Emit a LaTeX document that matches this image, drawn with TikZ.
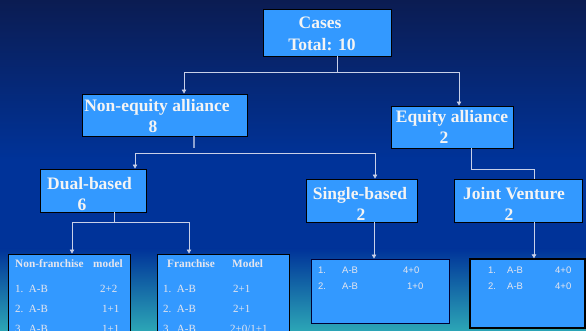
\documentclass[tikz,border=0pt]{standalone}
\usepackage{fontspec}
\setmainfont{Liberation Serif}
\newfontfamily\arialf{Liberation Sans}
\usetikzlibrary{arrows.meta}
\definecolor{bgtop}{HTML}{0B1C52}
\definecolor{bgmid}{HTML}{003399}
\definecolor{bgbot}{HTML}{2CA6B6}
\definecolor{boxfill}{HTML}{3399FF}
\definecolor{txt}{HTML}{F4F4F4}
\definecolor{ttxt}{HTML}{E6E6EE}
\definecolor{linec}{HTML}{C8D0E8}
\tikzset{
  box/.style={draw=black, line width=0.9pt, fill=boxfill, inner sep=0pt},
  head/.style={anchor=base, text=txt, font=\fontsize{17.5}{20}\selectfont\bfseries, inner sep=0pt},
  thead/.style={anchor=base west, text=ttxt, font=\fontsize{11.3}{13}\selectfont\bfseries, inner sep=0pt},
  trow/.style={anchor=base west, text=ttxt, font=\fontsize{11}{13}\selectfont, inner sep=0pt},
  srow/.style={anchor=base west, text=ttxt, font=\arialf\fontsize{9.5}{11}\selectfont, inner sep=0pt},
  conn/.style={draw=linec, line width=0.8pt},
  arr/.style={conn, -{Triangle[width=4.5pt,length=4pt]}},
}
\begin{document}
\begin{tikzpicture}[x=1pt,y=1pt]
\useasboundingbox (0,0) rectangle (586,331);
\clip (0,0) rectangle (586,331);
% background
\shade[top color=bgtop, bottom color=bgmid] (0,171) rectangle (586,331);
\fill[bgmid] (0,82) rectangle (586,171.5);
\shade[top color=bgmid, bottom color=bgbot] (0,0) rectangle (586,82.5);

% boxes
\node[box, minimum width=128pt, minimum height=47pt] (cases) at (327,298.5) {};
\node[box, minimum width=165pt, minimum height=42pt] (ne) at (164.5,216) {};
\node[box, minimum width=122pt, minimum height=42pt] (eq) at (452,204) {};
\node[box, minimum width=106pt, minimum height=43pt] (dual) at (93,140.5) {};
\node[box, minimum width=111pt, minimum height=43pt] (single) at (361.5,130.5) {};
\node[box, minimum width=128pt, minimum height=43pt] (jv) at (518,130.5) {};
\node[box, minimum width=122pt, minimum height=86pt] (nft) at (69,34) {};
\node[box, minimum width=132pt, minimum height=86pt] (frt) at (223,34) {};
\node[box, draw=black!80!blue, minimum width=138pt, minimum height=64pt] (sbt) at (380,40) {};
\node[box, line width=1.3pt, minimum width=115pt, minimum height=69pt] (jvt) at (527.5,37.5) {};

% heading texts
\node[head] (t1) at (320,302) {Cases};
\node[head] (t2) at (322,280) {Total: 10};
\node[head] (t3) at (157,219) {Non-equity alliance};
\node[head] (t4) at (153,198.3) {8};
\node[head] (t5) at (452,208) {Equity alliance};
\node[head] (t6) at (444,187) {2};
\node[head] (t7) at (89.5,141) {Dual-based};
\node[head] (t8) at (82,120.3) {6};
\node[head] (t9) at (360,131) {Single-based};
\node[head] (t10) at (361,110) {2};
\node[head] (t11) at (514,131) {Joint Venture};
\node[head] (t12) at (509,110) {2};

% table: non-franchise
\node[thead] (a1) at (15,63) {Non-franchise};
\node[thead] (a2) at (93,63) {model};
\node[trow] (a3) at (15,38.3) {1.\ \ A-B};
\node[trow] (a4) at (100,38.3) {2+2};
\node[trow] (a5) at (15,18.3) {2.\ \ A-B};
\node[trow] (a6) at (102,18.3) {1+1};
\node[trow] (a7) at (15,-1.5) {3.\ \ A-B};
\node[trow] (a8) at (102,-1.5) {1+1};

% table: franchise
\node[thead] (b1) at (167,63) {Franchise};
\node[thead] (b2) at (232,63) {Model};
\node[trow] (b3) at (163,38.3) {1.\ \ A-B};
\node[trow] (b4) at (233,38.3) {2+1};
\node[trow] (b5) at (163,18.3) {2.\ \ A-B};
\node[trow] (b6) at (233,18.3) {2+1};
\node[trow] (b7) at (163,-1.5) {3.\ \ A-B};
\node[trow] (b8) at (230,-1.5) {2+0/1+1};

% table: single-based
\node[srow] (c1) at (318,57.7) {1.};
\node[srow] (c2) at (342,57.7) {A-B};
\node[srow] (c3) at (403,57.7) {4+0};
\node[srow] (c4) at (318,41.7) {2.};
\node[srow] (c5) at (342,41.7) {A-B};
\node[srow] (c6) at (407,41.7) {1+0};

% table: joint venture
\node[srow] (d1) at (488,57.7) {1.};
\node[srow] (d2) at (507,57.7) {A-B};
\node[srow] (d3) at (555,57.7) {4+0};
\node[srow] (d4) at (488,41.7) {2.};
\node[srow] (d5) at (507,41.7) {A-B};
\node[srow] (d6) at (555,41.7) {4+0};

% connectors
\coordinate (j1) at (337,259);
\coordinate (j2) at (194,178);
\coordinate (j3) at (114,109);
\coordinate (j4) at (471,162);
\draw[conn] ([xshift=10pt]cases.south) -- (j1);
\draw[arr] (j1) -| ([xshift=19.5pt]ne.north);
\draw[arr] (j1) -| ([xshift=7pt]eq.north);
\draw[conn, draw=linec!70!bgmid, line width=1.8pt] ([xshift=29.5pt]ne.south) -- ([yshift=5pt]j2);
\draw[arr] (j2) -| ([xshift=42pt]dual.north);
\draw[arr] (j2) -| ([xshift=13.5pt]single.north);
\draw[conn] ([xshift=21pt]dual.south) -- (j3);
\draw[arr] (j3) -| ([xshift=3pt]nft.north);
\draw[arr] (j3) -| ([xshift=-34pt]frt.north);
\draw[conn] ([xshift=19pt]eq.south) -- (j4) -| ([xshift=16pt]jv.north);
\draw[arr] ([xshift=12.5pt]single.south) -- ([xshift=-6pt]sbt.north);
\draw[arr] ([xshift=16pt]jv.south) -- ([xshift=6.5pt]jvt.north);
\end{tikzpicture}
\end{document}
